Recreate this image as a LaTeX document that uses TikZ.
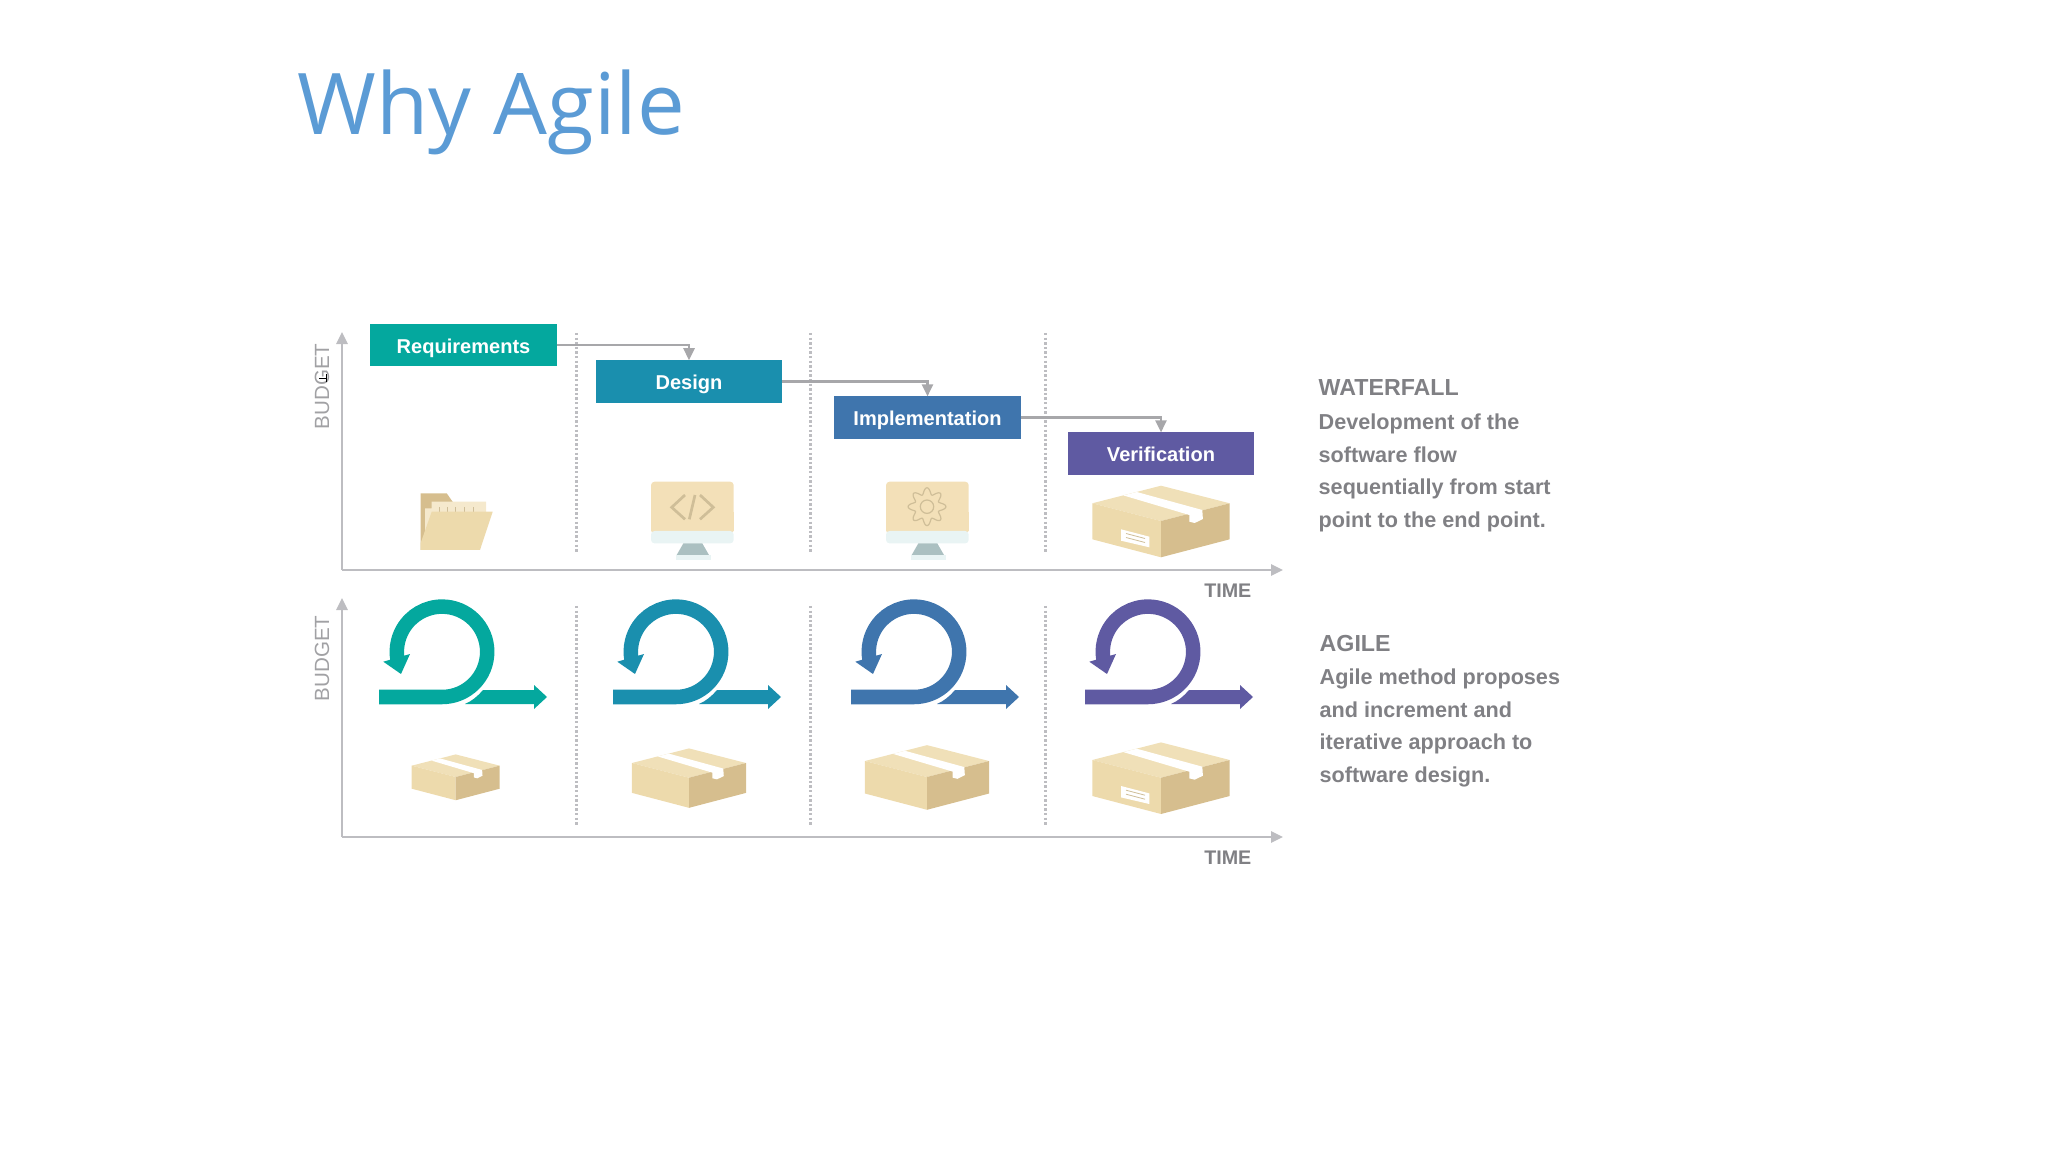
\documentclass[tikz,border=0pt]{standalone}
\usepackage{fontspec}
\setmainfont{Liberation Sans}
\newfontfamily\titlefont{Open Sans}
\usetikzlibrary{arrows.meta}

\definecolor{reqcol}{HTML}{04A89E}
\definecolor{dsgcol}{HTML}{1A8FAE}
\definecolor{impcol}{HTML}{3F75AD}
\definecolor{vercol}{HTML}{5F5AA2}
\definecolor{axiscol}{HTML}{BDBDC1}
\definecolor{linkcol}{HTML}{A7A7AA}
\definecolor{textcol}{HTML}{808084}
\definecolor{titlecol}{HTML}{5B9BD5}
\definecolor{tanlight}{HTML}{EDDAAC}
\definecolor{tantop}{HTML}{F0E0B8}
\definecolor{tandark}{HTML}{D6BE8E}
\definecolor{tanscreen}{HTML}{F3E0B8}
\definecolor{tanline}{HTML}{CFBE98}
\definecolor{paleblue}{HTML}{E9F4F4}
\definecolor{standcol}{HTML}{ABC0C1}

\tikzset{
  stagebox/.style={inner sep=0pt,outer sep=0pt,minimum width=1.86cm,minimum height=.425cm,text=white,
    text height=.164cm,text depth=0pt,font=\fontsize{5.7}{7}\selectfont\bfseries},
  axisline/.style={draw=axiscol,line width=.025cm,-{Triangle[length=.12cm,width=.11cm]}},
  linkline/.style={draw=linkcol,line width=.025cm,-{Triangle[length=.12cm,width=.11cm]}},
  sepline/.style={draw=axiscol,line width=.03cm,dash pattern=on .023cm off .023cm},
  budgetlabel/.style={rotate=90,text=axiscol!85!black,font=\fontsize{5.85}{7}\selectfont,inner sep=0pt},
  timelabel/.style={anchor=base east,text=textcol,font=\fontsize{5.6}{7}\selectfont\bfseries,inner sep=0pt},
  sidehead/.style={anchor=base west,text=textcol,font=\fontsize{6.6}{8}\selectfont\bfseries,inner sep=0pt},
  sidetext/.style={anchor=north west,align=left,text=textcol,inner sep=0pt,
    font=\fontsize{6.15}{9.28}\selectfont\bfseries},
  flipy/.style={yscale=-1},
  pics/carton/.style={code={
    \fill[tantop] (-68.7,-17.7) -- (0,-35.3) -- (68.7,-17.7) -- (0,0) -- cycle;
    \fill[tanlight] (-68.7,-17.7) -- (0,0) -- (0,36.3) -- (-68.7,18.3) -- cycle;
    \fill[tandark] (68.7,-17.7) -- (0,0) -- (0,36.3) -- (68.7,18.3) -- cycle;
    \fill[white] (-37.7,-25.6) -- (-24.3,-29) -- (41.3,-11) -- (41.9,-2) -- (33.7,2) -- (28.3,.7) -- (28.3,-6) -- cycle;
  }},
  pics/cartonnote/.style={code={
    \fill[white] (-40,8.3) -- (-11.7,15.7) -- (-11.7,26.3) -- (-40,19.7) -- cycle;
    \draw[tanline,line width=.008cm] (-35,12.5) -- (-16,17.5) (-35,16.5) -- (-16,21.5);
  }},
  pics/monitor/.style={code={
    \fill[tanscreen,rounded corners=1pt] (0,0) rectangle (82.7,52);
    \fill[tanscreen] (0,30) rectangle (82.7,49.3);
    \fill[paleblue,rounded corners=1pt] (0,49.3) rectangle (82.7,61.7);
    \fill[standcol] (32.3,61.7) -- (51.3,61.7) -- (58,73.3) -- (25.7,73.3) -- cycle;
    \fill[paleblue] (25,73.3) rectangle (60,78.3);
  }},
}

\begin{document}
\begin{tikzpicture}[x=.01cm,y=.01cm,yscale=-1]
    \useasboundingbox (0,0) rectangle (2048,1152);

    \node[anchor=base west,inner sep=0pt,text=titlecol,font=\fontsize{24.2}{28}\selectfont\titlefont] (title) at (297,135) {Why Agile};

    % axes
    \coordinate (wO) at (342,570);
    \coordinate (wY) at (342,332);
    \coordinate (wX) at (1283,570);
    \coordinate (aO) at (342,837);
    \coordinate (aY) at (342,598);
    \coordinate (aX) at (1283,837);
    \draw[axisline] (wO) -- (wY);
    \draw[axisline] (wO) -- (wX);
    \draw[axisline] (aO) -- (aY);
    \draw[axisline] (aO) -- (aX);

    % column separators
    \foreach \x in {576,810.5,1045} {
      \draw[sepline] (\x,333) -- (\x,553);
      \draw[sepline] (\x,606) -- (\x,826);
    }

    \node[budgetlabel] (wbudget) at (322,386.5) {BUDGET};
    \node[budgetlabel] (abudget) at (322,658.5) {BUDGET};
    \draw[black,line width=.006cm] (326,374) -- (326,382) (319,378) -- (326,378);
    \node[timelabel] (wtime) at (1252,597) {TIME};
    \node[timelabel] (atime) at (1252,864) {TIME};

    % waterfall stages
    \node[stagebox,fill=reqcol] (req) at (463.5,345) {Requirements};
    \node[stagebox,fill=dsgcol] (dsg) at (689,381.5) {Design};
    \node[stagebox,fill=impcol] (imp) at (927.5,417.7) {Implementation};
    \node[stagebox,fill=vercol] (ver) at (1161,453.7) {Verification};
    \draw[linkline] (req.east) -| (dsg.north);
    \draw[linkline] (dsg.east) -| (imp.north);
    \draw[linkline] (imp.east) -| (ver.north);

    % folder
    \fill[tandark] (420.7,493.3) -- (446.7,493.3) -- (453.3,502.7) -- (453,540) -- (420.7,550) -- cycle;
    \fill[tantop!70!white] (425,508.3) -- (431.7,508.3) -- (431.7,501.7) -- (486,501.7) -- (486,523) -- (425,537) -- cycle;
    \foreach \x in {439,447.3,455.7,464,473.3}
      \draw[tanline,line width=.01cm] (\x,507) -- (\x,511.7);
    \fill[tanlight] (431.7,511.7) -- (492.7,511.7) -- (480,550) -- (420.7,550) -- (420.7,543) -- cycle;

    % monitors
    \pic[flipy] at (651,481.7) {monitor};
    \pic[flipy] at (886,481.7) {monitor};
    \draw[tanline,line width=.027cm] (685,495) -- (671.7,507.3) -- (685,519.3);
    \draw[tanline,line width=.027cm] (695,495) -- (689.3,519.3);
    \draw[tanline,line width=.027cm] (700,495) -- (713.3,507.3) -- (700,519.3);
    \draw[tanline,line width=.012cm,shift={(927,506.7)}] plot[domain=0:360,samples=145] (\x:{15.7+3.2*cos(8*\x)}) -- cycle;
    \draw[tanline,line width=.012cm] (927,506.7) circle (6.7);

    % cartons
    \pic[flipy] at (1161,521) {carton};
    \pic[flipy] at (1161,521) {cartonnote};
    \pic[scale=.64,flipy] at (455.7,777) {carton};
    \pic[scale=.83,flipy] at (689,777.7) {carton};
    \pic[scale=.903,flipy] at (927,777) {carton};
    \pic[flipy] at (1161,777.7) {carton};
    \pic[flipy] at (1161,777.7) {cartonnote};

    % agile loops
    \foreach \dx/\col in {0/reqcol,234/dsgcol,472/impcol,706/vercol} {
      \begin{scope}[shift={(\dx,0)}]
        \draw[\col,line width=.145cm] (379,697) -- (442,697) arc[start angle=90,end angle=-195,radius=45.2];
        \fill[\col] (383.3,661.7) -- (410,654) -- (401,674) -- cycle;
        \fill[\col] (465,704) .. controls (472,701) and (478,696) .. (483,690) -- (534,690) -- (534,685) -- (547,697) -- (534,709) -- (534,704) -- cycle;
      \end{scope}
    }

    % side texts
    \node[sidehead] (wfhead) at (1318,396) {WATERFALL};
    \node[sidetext] (wfbody) at (1318,413) {Development of the\\software flow\\sequentially from start\\point to the end point.};
    \node[sidehead] (aghead) at (1319,651) {AGILE};
    \node[sidetext] (agbody) at (1319,668) {Agile method proposes\\and increment and\\iterative approach to\\software design.};
\end{tikzpicture}
\end{document}
